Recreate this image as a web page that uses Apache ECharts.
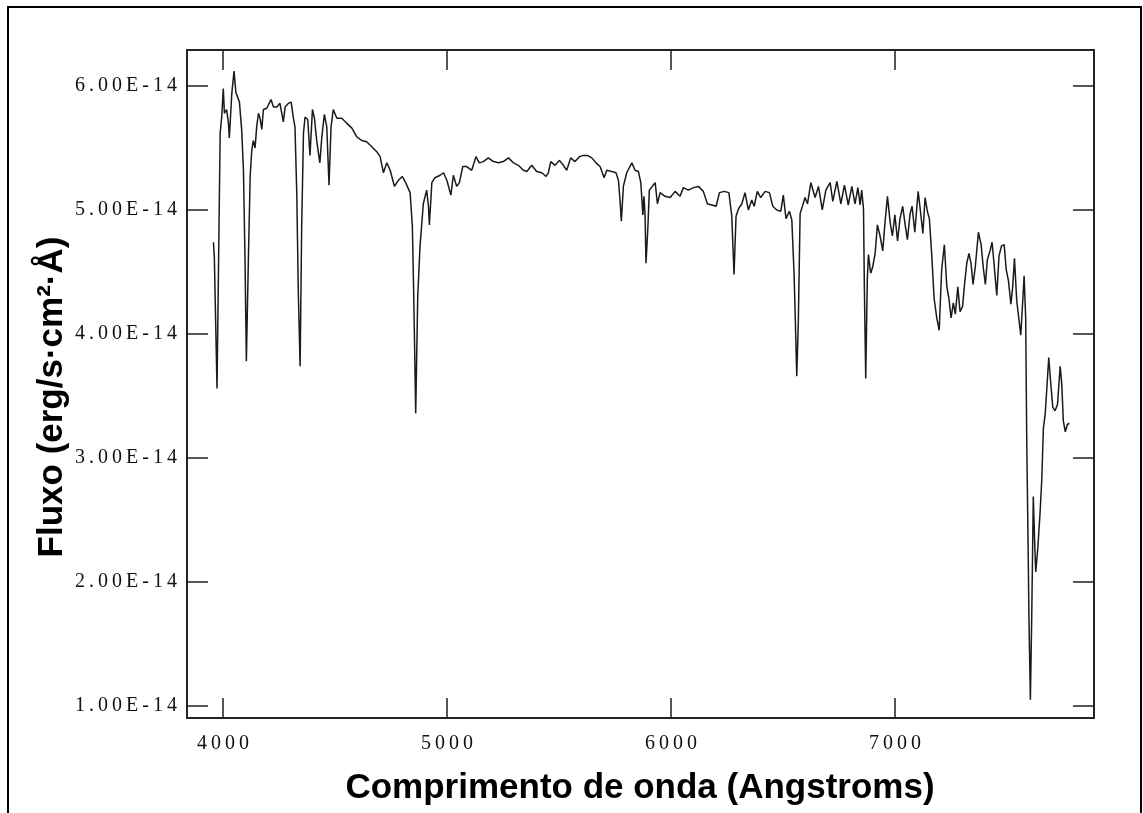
<!DOCTYPE html>
<html style="height: 100%">
    <head>
        <meta charset="utf-8">
    </head>
    <body style="height: 100%; margin: 0; background: #fff">
        <div id="container" style="width: 1143px; height: 813px"></div>

        <script type="text/javascript" src="https://cdn.jsdelivr.net/npm/echarts@6/dist/echarts.min.js"></script>
        <script type="text/javascript">
// wavelength in Angstroms, flux in units of 1E-14 erg/s/cm2/A
var wavelength = [
    3957, 3961, 3973, 3987, 3994, 4001, 4006, 4016, 4024, 4028, 4039, 4049, 4057, 4065, 4073,
    4083, 4091, 4098, 4104, 4113, 4121, 4128, 4135, 4143, 4150, 4158, 4165, 4173, 4180, 4195,
    4214, 4225, 4240, 4254, 4269, 4277, 4292, 4304, 4314, 4321, 4329, 4336, 4344, 4351, 4359,
    4366, 4378, 4388, 4399, 4408, 4418, 4432, 4441, 4452, 4463, 4473, 4482, 4492, 4508, 4530,
    4552, 4575, 4597, 4619, 4641, 4664, 4686, 4701, 4716, 4731, 4746, 4765, 4783, 4800, 4815,
    4835, 4845, 4851, 4860, 4869, 4879, 4894, 4909, 4917, 4921, 4932, 4946, 4969, 4984, 4999,
    5017, 5028, 5043, 5055, 5070, 5088, 5110, 5129, 5144, 5162, 5184, 5207, 5229, 5251, 5274,
    5296, 5318, 5341, 5356, 5378, 5400, 5423, 5442, 5452, 5463, 5482, 5502, 5519, 5534, 5552,
    5571, 5591, 5609, 5626, 5646, 5665, 5683, 5701, 5713, 5735, 5754, 5765, 5772, 5778, 5787,
    5802, 5825, 5839, 5854, 5865, 5874, 5879, 5884, 5888, 5896, 5903, 5929, 5939, 5951, 5973,
    5996, 6018, 6040, 6055, 6077, 6100, 6122, 6144, 6162, 6182, 6201, 6216, 6237, 6258, 6271,
    6281, 6290, 6301, 6316, 6330, 6345, 6360, 6371, 6385, 6400, 6420, 6439, 6454, 6472, 6490,
    6501, 6513, 6528, 6539, 6549, 6555, 6561, 6568, 6576, 6588, 6598, 6609, 6624, 6643, 6658,
    6675, 6691, 6710, 6722, 6740, 6758, 6774, 6791, 6807, 6821, 6834, 6844, 6851, 6859, 6863,
    6869, 6876, 6881, 6891, 6900, 6911, 6921, 6933, 6945, 6955, 6966, 6978, 6988, 6999, 7011,
    7022, 7034, 7045, 7055, 7067, 7076, 7088, 7103, 7112, 7124, 7134, 7144, 7153, 7164, 7174,
    7186, 7197, 7208, 7220, 7231, 7240, 7250, 7260, 7269, 7280, 7290, 7301, 7309, 7320, 7330,
    7339, 7348, 7358, 7372, 7384, 7394, 7403, 7412, 7424, 7433, 7442, 7454, 7464, 7475, 7487,
    7496, 7506, 7517, 7525, 7533, 7543, 7552, 7561, 7570, 7576, 7583, 7588, 7594, 7598, 7604,
    7610, 7617, 7624, 7628, 7637, 7647, 7655, 7662, 7670, 7677, 7686, 7695, 7704, 7714, 7725,
    7737, 7744, 7751, 7760, 7769, 7778
];
var flux = [
    4.74, 4.62, 3.56, 5.62, 5.75, 5.98, 5.78, 5.81, 5.70, 5.58, 5.94, 6.12, 5.95, 5.91, 5.87,
    5.65, 5.32, 4.60, 3.78, 4.60, 5.27, 5.48, 5.56, 5.50, 5.67, 5.78, 5.74, 5.65, 5.81, 5.82,
    5.89, 5.83, 5.83, 5.86, 5.71, 5.83, 5.86, 5.87, 5.74, 5.67, 5.14, 4.33, 3.74, 4.87, 5.62,
    5.75, 5.73, 5.44, 5.81, 5.74, 5.56, 5.38, 5.59, 5.77, 5.67, 5.20, 5.67, 5.81, 5.74, 5.74,
    5.70, 5.66, 5.59, 5.56, 5.55, 5.51, 5.47, 5.43, 5.30, 5.38, 5.32, 5.19, 5.24, 5.27, 5.22,
    5.14, 4.87, 4.33, 3.36, 4.30, 4.70, 5.05, 5.16, 5.03, 4.88, 5.22, 5.26, 5.28, 5.30, 5.24,
    5.12, 5.28, 5.19, 5.22, 5.35, 5.35, 5.32, 5.43, 5.38, 5.39, 5.42, 5.39, 5.38, 5.39, 5.42,
    5.38, 5.36, 5.32, 5.31, 5.36, 5.31, 5.30, 5.27, 5.30, 5.39, 5.36, 5.40, 5.36, 5.32, 5.42,
    5.39, 5.43, 5.44, 5.44, 5.42, 5.38, 5.35, 5.26, 5.32, 5.31, 5.30, 5.24, 5.08, 4.91, 5.19,
    5.30, 5.38, 5.32, 5.31, 5.22, 4.96, 5.11, 4.95, 4.57, 4.84, 5.16, 5.22, 5.05, 5.14, 5.11,
    5.10, 5.15, 5.11, 5.18, 5.16, 5.18, 5.19, 5.15, 5.05, 5.04, 5.03, 5.14, 5.15, 5.14, 4.95,
    4.48, 4.95, 5.01, 5.05, 5.14, 5.00, 5.08, 5.03, 5.15, 5.10, 5.15, 5.14, 5.03, 5.00, 4.99,
    5.12, 4.93, 4.99, 4.92, 4.49, 4.09, 3.66, 4.09, 4.97, 5.04, 5.10, 5.05, 5.22, 5.10, 5.19,
    5.00, 5.16, 5.22, 5.07, 5.23, 5.05, 5.20, 5.04, 5.19, 5.05, 5.18, 5.04, 5.16, 5.01, 4.36,
    3.64, 4.44, 4.64, 4.49, 4.54, 4.65, 4.88, 4.79, 4.67, 4.90, 5.11, 4.90, 4.79, 4.96, 4.75,
    4.93, 5.03, 4.88, 4.76, 4.97, 5.03, 4.82, 5.15, 5.01, 4.81, 5.10, 4.99, 4.93, 4.63, 4.29,
    4.13, 4.03, 4.52, 4.72, 4.38, 4.29, 4.13, 4.25, 4.16, 4.38, 4.18, 4.22, 4.38, 4.57, 4.65,
    4.57, 4.40, 4.54, 4.82, 4.72, 4.53, 4.40, 4.60, 4.67, 4.74, 4.56, 4.31, 4.63, 4.71, 4.72,
    4.52, 4.43, 4.24, 4.38, 4.61, 4.27, 4.13, 3.99, 4.27, 4.47, 4.13, 3.10, 2.27, 1.66, 1.05,
    1.72, 2.69, 2.27, 2.08, 2.27, 2.55, 2.83, 3.24, 3.35, 3.55, 3.81, 3.60, 3.41, 3.38, 3.43,
    3.74, 3.60, 3.30, 3.21, 3.27, 3.28
];

var xTicks = [4000, 5000, 6000, 7000];
var yTicks = [1, 2, 3, 4, 5, 6];

var dom = document.getElementById("container");
var myChart = echarts.init(dom, null, {renderer: 'canvas'});

var spectrum = [];
for (var i = 0; i < wavelength.length; i++) {
    spectrum.push([wavelength[i], flux[i]]);
}

// the old plot spaces its digits out a bit
function spaced(s) {
    return s.split('').join('\u2009');
}

var frameColor = '#222';
var labelFont = {
    fontFamily: 'Liberation Serif',
    fontSize: 20,
    color: '#111'
};

function xAxisCfg(pos, showLabel) {
    return {
        type: 'value',
        position: pos,
        min: 3839,
        max: 7888,
        axisLine: {show: true, onZero: false, lineStyle: {color: frameColor, width: 2}},
        axisTick: {show: true, inside: true, length: 20, customValues: xTicks,
                   lineStyle: {color: frameColor, width: 1.5}},
        axisLabel: Object.assign({show: showLabel, customValues: xTicks, margin: 16,
                   formatter: function (v) { return spaced(String(v)); }}, labelFont),
        splitLine: {show: false}
    };
}

function yAxisCfg(pos, showLabel) {
    return {
        type: 'value',
        position: pos,
        min: 0.903,
        max: 6.29,
        axisLine: {show: true, onZero: false, lineStyle: {color: frameColor, width: 2}},
        axisTick: {show: true, inside: true, length: 21, customValues: yTicks,
                   lineStyle: {color: frameColor, width: 1.5}},
        axisLabel: Object.assign({show: showLabel, customValues: yTicks, margin: 10,
                   formatter: function (v) { return spaced(v.toFixed(2) + 'E-14'); }}, labelFont),
        splitLine: {show: false}
    };
}

var option = {
    backgroundColor: '#fff',
    animation: false,
    grid: {left: 187, right: 49, top: 50, bottom: 95},
    xAxis: [xAxisCfg('bottom', true), xAxisCfg('top', false)],
    yAxis: [yAxisCfg('left', true), yAxisCfg('right', false)],
    graphic: [
        {
            type: 'polyline',
            shape: {points: [[8, 820], [8, 7], [1141, 7], [1141, 820]]},
            style: {stroke: '#000', lineWidth: 2, fill: null}
        },
        {
            type: 'text',
            x: 52,
            y: 397,
            rotation: Math.PI / 2,
            style: {
                text: 'Fluxo (erg/s\u00b7cm\u00b2\u00b7\u00c5)',
                fontFamily: 'Liberation Sans',
                fontWeight: 'bold',
                fontSize: 35,
                fill: '#000',
                align: 'center',
                verticalAlign: 'middle'
            }
        },
        {
            type: 'text',
            x: 640,
            y: 788,
            style: {
                text: 'Comprimento de onda (Angstroms)',
                fontFamily: 'Liberation Sans',
                fontWeight: 'bold',
                fontSize: 35,
                fill: '#000',
                align: 'center',
                verticalAlign: 'middle'
            }
        }
    ],
    series: [
        {
            name: 'Fluxo',
            type: 'line',
            xAxisIndex: 0,
            yAxisIndex: 0,
            data: spectrum,
            showSymbol: false,
            sampling: null,
            lineStyle: {color: '#1a1a1a', width: 1.5},
            clip: true
        }
    ]
};

myChart.setOption(option);
        </script>
    </body>
</html>
